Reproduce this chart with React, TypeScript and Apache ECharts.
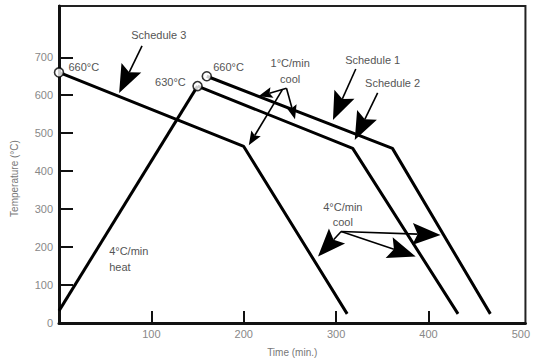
import React, { useEffect, useRef } from 'react';
import * as echarts from 'echarts';

// Temperature schedules: [time (min), temperature (°C)]
const schedule1 = [[160, 650], [361, 460], [467, 24]];
const schedule2 = [[150, 624], [318, 460], [432, 24]];
const schedule3 = [[0, 660], [200, 465], [312, 24]];
const heating = [[0, 32], [150, 624]];
const startPoints = [[0, 660], [150, 624], [160, 650]];

const xTickLabels = [100, 200, 300, 400, 500];
const yTickLabels = [0, 100, 200, 300, 400, 500, 600, 700];

// Annotation arrows in data coords: [fromX, fromY, toX, toY, kind] (0 = big head, 1 = small head)
const arrows = [
  [89.9, 730, 65.1, 606, 0],
  [321.3, 669, 296.6, 535, 0],
  [345, 606, 320.2, 482, 0],
  [305.5, 241, 280.4, 175, 0],
  [305.5, 241, 413.1, 232, 0],
  [305.5, 241, 386.2, 175, 0],
  [246.3, 618.4, 216, 597, 1],
  [246.3, 618.4, 255.5, 537, 1],
  [241.7, 614, 205.5, 468, 1],
];

// Annotation texts: [x, y, text, align]
const texts: [number, number, string, string][] = [
  [108, 758, 'Schedule 3', 'center'],
  [10.2, 675, '660°C', 'left'],
  [120.6, 635, '630°C', 'center'],
  [183.5, 674.5, '660°C', 'center'],
  [250.3, 685, '1°C/min', 'center'],
  [250.3, 643, 'cool', 'center'],
  [339.6, 693, 'Schedule 1', 'center'],
  [361.2, 632, 'Schedule 2', 'center'],
  [54.3, 190, '4°C/min', 'left'],
  [54.3, 148, 'heat', 'left'],
  [307.3, 306, '4°C/min', 'center'],
  [307.3, 267, 'cool', 'center'],
];

const FONT = 'Liberation Sans, Arial, sans-serif';

const headSizes = [
  { len: 28, half: 11 },
  { len: 14, half: 5.5 },
];

function renderArrow(params: any, api: any) {
  const p1 = api.coord([api.value(0), api.value(1)]);
  const p2 = api.coord([api.value(2), api.value(3)]);
  const kind = api.value(4);
  const { len, half } = headSizes[kind];
  const dx = p2[0] - p1[0];
  const dy = p2[1] - p1[1];
  const d = Math.sqrt(dx * dx + dy * dy) || 1;
  const ux = dx / d;
  const uy = dy / d;
  const nx = -uy;
  const ny = ux;
  const bx = p2[0] - ux * len;
  const by = p2[1] - uy * len;
  const notchX = p2[0] - ux * len * 0.82;
  const notchY = p2[1] - uy * len * 0.82;
  return {
    type: 'group',
    children: [
      {
        type: 'line',
        shape: { x1: p1[0], y1: p1[1], x2: notchX, y2: notchY },
        style: { stroke: '#000', lineWidth: 1.6 },
      },
      {
        type: 'polygon',
        shape: {
          points: [
            [p2[0], p2[1]],
            [bx + nx * half, by + ny * half],
            [notchX, notchY],
            [bx - nx * half, by - ny * half],
          ],
        },
        style: { fill: '#000' },
      },
    ],
  };
}

function renderText(params: any, api: any) {
  const item = texts[params.dataIndex];
  const p = api.coord([item[0], item[1]]);
  return {
    type: 'text',
    x: p[0],
    y: p[1],
    style: {
      text: item[2],
      fill: '#555',
      font: `11px ${FONT}`,
      textAlign: item[3],
      textVerticalAlign: 'middle',
    },
  };
}

const lineStyle = { color: '#000', width: 3 };

export default function App() {
  const ref = useRef<HTMLDivElement>(null);
  useEffect(() => {
    document.body.style.margin = '0';
    const chart = echarts.init(ref.current!, null, { renderer: 'svg' });
    chart.setOption({
      animation: false,
      backgroundColor: '#fff',
      grid: {
        left: 59,
        right: 5,
        top: 6,
        bottom: 40,
        show: true,
        borderColor: '#222',
        borderWidth: 2,
      },
      xAxis: {
        type: 'value',
        min: 0,
        max: 505,
        interval: 100,
        name: 'Time (min.)',
        nameLocation: 'middle',
        nameGap: 24,
        nameTextStyle: { color: '#777', fontSize: 10, fontFamily: FONT },
        axisLine: { show: true, lineStyle: { color: '#111', width: 3 } },
        axisTick: {
          show: true,
          inside: true,
          length: 12,
          lineStyle: { color: '#111', width: 2 },
          customValues: [100, 200, 300, 400],
        },
        axisLabel: {
          color: '#888',
          fontSize: 11,
          fontFamily: FONT,
          margin: 5,
          customValues: xTickLabels,
        },
        splitLine: { show: false },
      },
      yAxis: {
        type: 'value',
        min: 0,
        max: 835,
        interval: 100,
        name: 'Temperature (°C)',
        nameLocation: 'middle',
        nameRotate: 90,
        nameGap: 40,
        nameTextStyle: { color: '#777', fontSize: 10, fontFamily: FONT, padding: [0, 28, 0, 0] },
        axisLine: { show: true, lineStyle: { color: '#111', width: 3 } },
        axisTick: {
          show: true,
          inside: true,
          length: 14,
          lineStyle: { color: '#111', width: 2 },
          customValues: [100, 200, 300, 400, 500, 600, 700],
        },
        axisLabel: {
          color: '#888',
          fontSize: 11,
          fontFamily: FONT,
          margin: 6,
          customValues: yTickLabels,
        },
        splitLine: { show: false },
      },
      series: [
        { type: 'line', data: schedule3, symbol: 'none', lineStyle, z: 3 },
        { type: 'line', data: heating, symbol: 'none', lineStyle, z: 3 },
        { type: 'line', data: schedule2, symbol: 'none', lineStyle, z: 3 },
        { type: 'line', data: schedule1, symbol: 'none', lineStyle, z: 3 },
        {
          type: 'scatter',
          data: startPoints,
          symbol: 'circle',
          symbolSize: 9,
          itemStyle: { color: '#fff', borderColor: '#000', borderWidth: 1.6 },
          z: 5,
        },
        {
          type: 'custom',
          data: arrows,
          renderItem: renderArrow,
          encode: { x: [0, 2], y: [1, 3] },
          z: 6,
        },
        {
          type: 'custom',
          data: texts.map((t) => [t[0], t[1]]),
          renderItem: renderText,
          encode: { x: 0, y: 1 },
          z: 7,
        },
      ],
    });
    return () => chart.dispose();
  }, []);
  return <div ref={ref} style={{ width: 533, height: 363 }} />;
}
